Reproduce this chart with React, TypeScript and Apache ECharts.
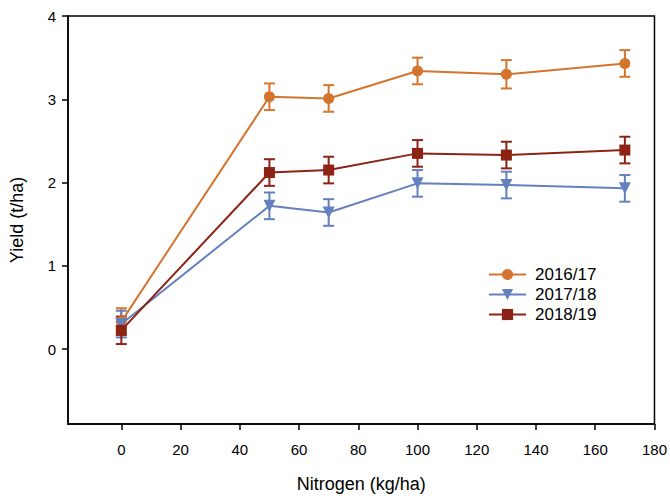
import React, { useEffect, useRef } from "react";
import * as echarts from "echarts";

const seriesNames = ["2016/17", "2017/18", "2018/19"];
const nitrogen = [0, 50, 70, 100, 130, 170];
const yield1617 = [0.33, 3.03, 3.01, 3.34, 3.3, 3.43];
const err1617 = [0.16, 0.16, 0.16, 0.16, 0.17, 0.16];
const yield1718 = [0.3, 1.72, 1.64, 1.99, 1.97, 1.93];
const err1718 = [0.16, 0.16, 0.16, 0.16, 0.16, 0.16];
const yield1819 = [0.225, 2.12, 2.15, 2.35, 2.33, 2.39];
const err1819 = [0.165, 0.16, 0.16, 0.16, 0.16, 0.16];
const xTicks = [0, 20, 40, 60, 80, 100, 120, 140, 160, 180];
const yTicks = [0, 1, 2, 3, 4];

const colors = ["#D4752F", "#6480BE", "#8C2314"];
const symbols = ["circle", "triangle", "rect"];
const symbolRotates = [0, 180, 0];
const symbolSizes = [11, 12, 11];
const FONT = "'Liberation Sans', Arial, sans-serif";

export default function App() {
  const ref = useRef<HTMLDivElement>(null);
  useEffect(() => {
    if (!ref.current) return;
    const chart = echarts.init(ref.current, null, { renderer: "svg" });
    const means = [yield1617, yield1718, yield1819];
    const errs = [err1617, err1718, err1819];

    const lineSeries = seriesNames.map((name, i) => ({
      name,
      type: "line",
      data: nitrogen.map((x, j) => [x, means[i][j]]),
      symbol: symbols[i],
      symbolRotate: symbolRotates[i],
      symbolSize: symbolSizes[i],
      showSymbol: true,
      itemStyle: { color: colors[i] },
      lineStyle: { color: colors[i], width: 2 },
      z: 3,
    }));

    const errSeries = seriesNames.map((name, i) => ({
      name: name + " error",
      type: "custom",
      data: nitrogen.map((x, j) => [x, means[i][j] - errs[i][j], means[i][j] + errs[i][j]]),
      encode: { x: 0, y: [1, 2] },
      z: 2,
      clip: false,
      renderItem: (params: any, api: any) => {
        const x = api.value(0);
        const lo = api.coord([x, api.value(1)]);
        const hi = api.coord([x, api.value(2)]);
        const half = 5.5;
        const style = { stroke: colors[i], lineWidth: 2 };
        return {
          type: "group",
          children: [
            { type: "line", shape: { x1: hi[0], y1: hi[1], x2: lo[0], y2: lo[1] }, style },
            { type: "line", shape: { x1: hi[0] - half, y1: hi[1], x2: hi[0] + half, y2: hi[1] }, style },
            { type: "line", shape: { x1: lo[0] - half, y1: lo[1], x2: lo[0] + half, y2: lo[1] }, style },
          ],
        };
      },
    }));

    chart.setOption({
      animation: false,
      textStyle: { fontFamily: FONT },
      grid: {
        left: 67,
        right: 15,
        top: 16,
        bottom: 72,
        show: true,
        borderColor: "#000",
        borderWidth: 1.5,
      },
      legend: {
        data: seriesNames,
        orient: "vertical",
        left: 483,
        top: 261,
        itemWidth: 37,
        itemHeight: 14,
        itemGap: 3,
        textStyle: { fontSize: 17, color: "#000", fontFamily: FONT, padding: [0, 0, 0, 4], lineHeight: 17 },
      },
      xAxis: {
        type: "value",
        min: -18,
        max: 180,
        name: "Nitrogen (kg/ha)",
        nameLocation: "middle",
        nameGap: 51,
        nameTextStyle: { fontSize: 18, color: "#000", fontFamily: FONT },
        splitLine: { show: false },
        axisLine: { show: true, onZero: false, lineStyle: { color: "#000", width: 1.5 } },
        axisTick: { show: true, length: 6, customValues: xTicks, lineStyle: { color: "#000", width: 1.5 } },
        axisLabel: { customValues: xTicks, fontSize: 15, color: "#000", margin: 18, fontFamily: FONT },
      },
      yAxis: {
        type: "value",
        min: -0.9,
        max: 4,
        name: "Yield (t/ha)",
        nameLocation: "middle",
        nameGap: 42,
        nameTextStyle: { fontSize: 18, color: "#000", fontFamily: FONT },
        splitLine: { show: false },
        axisLine: { show: true, onZero: false, lineStyle: { color: "#000", width: 1.5 } },
        axisTick: { show: true, length: 6, customValues: yTicks, lineStyle: { color: "#000", width: 1.5 } },
        axisLabel: { customValues: yTicks, fontSize: 15, color: "#000", margin: 12, fontFamily: FONT },
      },
      series: [...errSeries, ...lineSeries],
    });
    return () => chart.dispose();
  }, []);
  return (
    <div
      ref={ref}
      style={{ position: "fixed", left: 0, top: 0, width: 670, height: 498, background: "#fff" }}
    />
  );
}
